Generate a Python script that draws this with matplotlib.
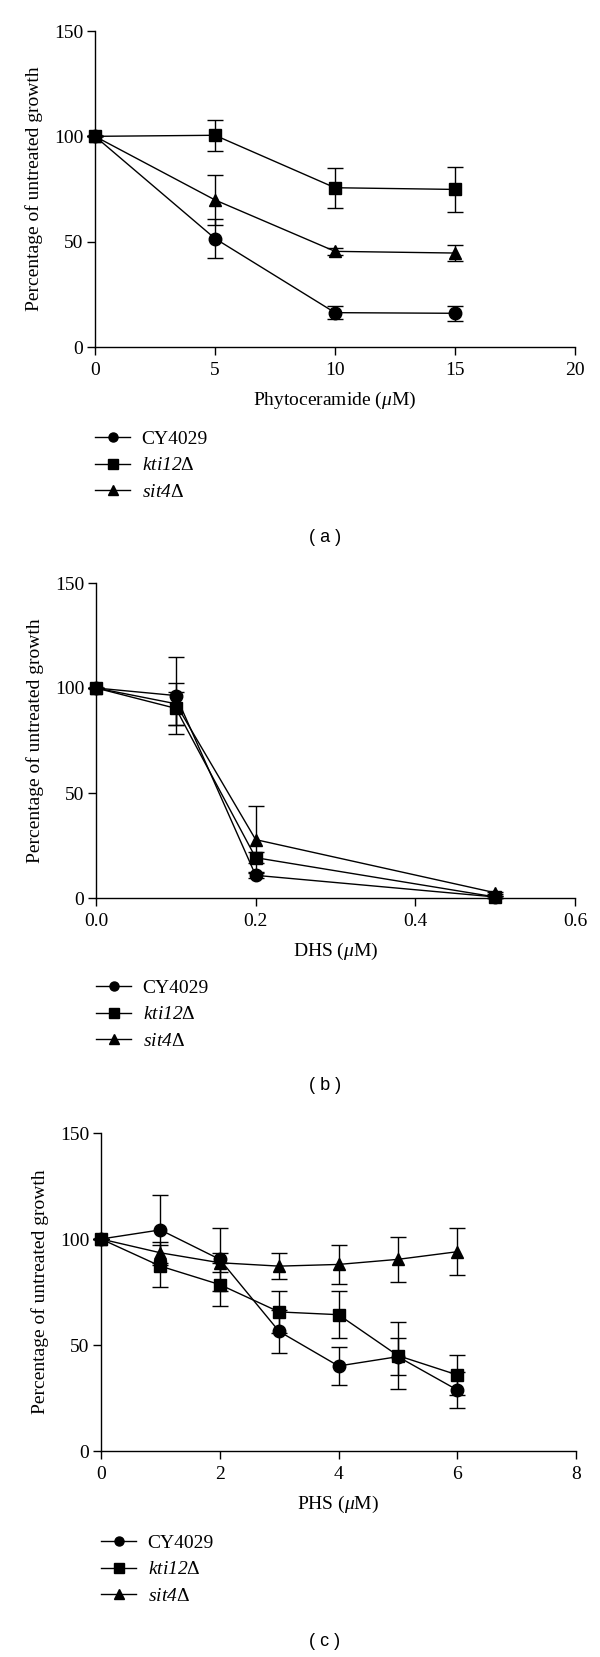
import numpy as np
import matplotlib
matplotlib.use("Agg")
import matplotlib.pyplot as plt
from matplotlib.lines import Line2D

plt.rcParams['font.family'] = ['Liberation Serif', 'DejaVu Serif']
plt.rcParams['mathtext.fontset'] = 'custom'
plt.rcParams['mathtext.rm'] = 'Liberation Serif:italic'
plt.rcParams['mathtext.it'] = 'Liberation Serif:italic'

strains = ['CY4029', r'$\mathit{kti12}$Δ', r'$\mathit{sit4}$Δ']
markers = ['o', 's', '^']

# (a) phytoceramide
x_a = [0, 5, 10, 15]
cy_a = [100, 51.5, 16.3, 16.0]
cy_a_err = [0, 9.3, 3.0, 3.5]
kti_a = [100, 100.5, 75.6, 74.8]
kti_a_err = [0, 7.4, 9.5, 10.8]
sit_a = [100, 69.8, 45.4, 44.6]
sit_a_err = [0, 11.8, 1.5, 4.0]

# (b) DHS
x_b = [0, 0.1, 0.2, 0.5]
cy_b = [100, 96.4, 10.8, 0.5]
cy_b_err = [0, 18.3, 1.5, 0.5]
kti_b = [100, 90.3, 19.2, 0.5]
kti_b_err = [0, 8.0, 2.5, 0.5]
sit_b = [100, 92.5, 27.8, 2.5]
sit_b_err = [0, 10.1, 16.0, 0.5]

# (c) PHS
x_c = [0, 1, 2, 3, 4, 5, 6]
cy_c = [100, 104.3, 90.4, 56.4, 40.1, 44.5, 28.8]
cy_c_err = [0, 16.6, 15.0, 10.0, 9.0, 8.7, 8.4]
kti_c = [100, 87.2, 78.5, 65.6, 64.3, 45.0, 35.9]
kti_c_err = [0, 10.0, 10.0, 9.8, 11.0, 15.7, 9.3]
sit_c = [100, 93.5, 88.8, 87.2, 88.0, 90.4, 94.0]
sit_c_err = [0, 5.0, 4.5, 6.3, 9.0, 10.5, 11.0]

panels = [
    dict(x=x_a, ys=[(cy_a, cy_a_err), (kti_a, kti_a_err), (sit_a, sit_a_err)],
         xlim=20, xticks=[0, 5, 10, 15, 20], xfmt='{:g}',
         xlabel=r'Phytoceramide ($\mu$M)', tag='( a )',
         rect=[95, 31, 575, 347], leg_y=430, tag_y=538),
    dict(x=x_b, ys=[(cy_b, cy_b_err), (kti_b, kti_b_err), (sit_b, sit_b_err)],
         xlim=0.6, xticks=[0.0, 0.2, 0.4, 0.6], xfmt='{:.1f}',
         xlabel=r'DHS ($\mu$M)', tag='( b )',
         rect=[96, 583, 575, 898], leg_y=979, tag_y=1085),
    dict(x=x_c, ys=[(cy_c, cy_c_err), (kti_c, kti_c_err), (sit_c, sit_c_err)],
         xlim=8, xticks=[0, 2, 4, 6, 8], xfmt='{:g}',
         xlabel=r'PHS ($\mu$M)', tag='( c )',
         rect=[101, 1133, 576, 1451], leg_y=1534, tag_y=1641),
]

W, H = 600, 1657
fs = 14
fig = plt.figure(figsize=(6, 16.57), dpi=100)

for p in panels:
    l, t, r, b = p['rect']
    ax = fig.add_axes([l / W, 1 - b / H, (r - l) / W, (b - t) / H])
    for (y, e), m in zip(p['ys'], markers):
        ax.errorbar(p['x'], y, yerr=e, marker=m, color='black', markersize=9,
                    linewidth=1.0, elinewidth=1.0, capsize=5.5, capthick=1.0,
                    clip_on=False, zorder=3)
    ax.set_xlim(0, p['xlim'])
    ax.set_ylim(0, 150)
    ax.set_xticks(p['xticks'])
    ax.set_xticklabels([p['xfmt'].format(v) for v in p['xticks']])
    ax.set_yticks([0, 50, 100, 150])
    for s in ['top', 'right']:
        ax.spines[s].set_visible(False)
    for s in ['left', 'bottom']:
        ax.spines[s].set_linewidth(1.0)
    ax.tick_params(direction='out', length=5.5, width=1.0, labelsize=fs)
    ax.tick_params(axis='x', pad=5)
    ax.tick_params(axis='y', pad=3)
    ax.set_xlabel(p['xlabel'], fontsize=fs, labelpad=8)
    ax.set_ylabel('Percentage of untreated growth', fontsize=fs, labelpad=8)

    handles = [Line2D([], [], color='black', marker=m, markersize=6.5, linewidth=1.0)
               for m in markers]
    fig.legend(handles, strains, loc='upper left',
               bbox_to_anchor=(l / W, 1 - p['leg_y'] / H), frameon=False,
               fontsize=fs, handlelength=1.8, handletextpad=0.6,
               labelspacing=0.47, borderpad=0, borderaxespad=0)
    fig.text(325 / W, 1 - p['tag_y'] / H, p['tag'], ha='center', va='center',
             fontsize=13, family='Liberation Sans')

fig.savefig('out.png', dpi=100)
